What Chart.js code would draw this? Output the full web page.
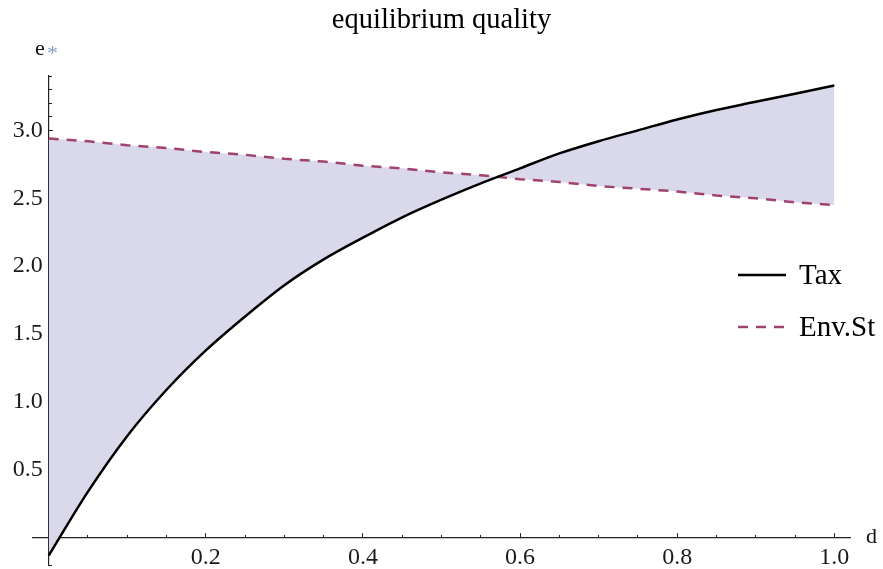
<!DOCTYPE html>
<html><head><meta charset="utf-8">
<script src="https://cdn.jsdelivr.net/npm/chart.js@4.4.0/dist/chart.umd.min.js"></script>
<style>html,body{margin:0;padding:0;background:#fff;}#wrap{width:883px;height:569px;}</style>
</head><body><div id="wrap"><canvas id="c" width="883" height="569"></canvas></div>
<script>
const titleText = 'equilibrium quality';
const seriesNames = ['Tax', 'Env.St'];
const dValues = [0, 0.05, 0.1, 0.15, 0.2, 0.25, 0.3, 0.35, 0.4, 0.45, 0.5, 0.55, 0.6, 0.65, 0.7, 0.75, 0.8, 0.85, 0.9, 0.95, 1.0];
const taxValues = [-0.13, 0.34, 0.75, 1.09, 1.38, 1.63, 1.86, 2.05, 2.21, 2.36, 2.49, 2.61, 2.72, 2.83, 2.92, 3.00, 3.08, 3.15, 3.21, 3.27, 3.33];
const envValues = [2.94, 2.92, 2.89, 2.87, 2.84, 2.82, 2.79, 2.77, 2.74, 2.72, 2.69, 2.67, 2.64, 2.62, 2.59, 2.57, 2.55, 2.52, 2.50, 2.47, 2.45];
const xTickLabels = ['0.2', '0.4', '0.6', '0.8', '1.0'];
const yTickLabels = ['0.5', '1.0', '1.5', '2.0', '2.5', '3.0'];
const xAxisLabel = 'd';
const yAxisLabel = 'e';
const yAxisMark = '*';

const SERIF = '"Liberation Serif", "Times New Roman", serif';
const fillColor = 'rgb(217,217,235)';
const taxColor = '#000000';
const envColor = '#a0426f';
const axisColor = '#222222';

const toPts = (ys) => dValues.map((d, i) => ({x: d, y: ys[i]}));
const noPad = (s) => { s.paddingTop = 0; s.paddingBottom = 0; s.paddingLeft = 0; s.paddingRight = 0; };

const overlay = {
  id: 'overlay',
  afterDraw(chart) {
    const ctx = chart.ctx;
    ctx.save();
    ctx.fillStyle = '#111';
    ctx.textAlign = 'left';
    ctx.textBaseline = 'alphabetic';
    ctx.font = '22px ' + SERIF;
    ctx.fillText(xAxisLabel, 866, 543);
    ctx.font = '22px ' + SERIF;
    ctx.fillText(yAxisLabel, 35, 55);
    ctx.fillStyle = '#8aa3c9';
    ctx.font = '22px ' + SERIF;
    ctx.fillText(yAxisMark, 47, 60);
    const ds = chart.data.datasets;
    const rows = [275, 327];
    ds.forEach((d, i) => {
      const y = rows[i];
      ctx.beginPath();
      ctx.strokeStyle = d.borderColor;
      ctx.lineWidth = d.borderWidth;
      ctx.setLineDash(d.borderDash || []);
      ctx.moveTo(738, y);
      ctx.lineTo(786, y);
      ctx.stroke();
      ctx.setLineDash([]);
      ctx.fillStyle = '#000';
      ctx.font = '29px ' + SERIF;
      ctx.textBaseline = 'middle';
      ctx.fillText(d.label, 799, y + 1);
    });
    ctx.restore();
  }
};

new Chart(document.getElementById('c'), {
  type: 'line',
  data: {
    datasets: [
      {
        label: seriesNames[0], data: toPts(taxValues),
        borderColor: taxColor, borderWidth: 2.5, pointRadius: 0,
        cubicInterpolationMode: 'monotone',
        fill: {target: 1, above: fillColor, below: fillColor},
        backgroundColor: fillColor
      },
      {
        label: seriesNames[1], data: toPts(envValues),
        borderColor: envColor, borderWidth: 2.5, borderDash: [10, 8], pointRadius: 0,
        fill: false
      }
    ]
  },
  options: {
    responsive: false, animation: false, devicePixelRatio: 1,
    layout: {padding: {left: 33, right: 33, top: 0, bottom: 4}},
    plugins: {
      legend: {display: false},
      tooltip: {enabled: false},
      filler: {drawTime: 'beforeDatasetsDraw'},
      title: {
        display: true, text: titleText, color: '#000',
        font: {family: SERIF, size: 28.5, weight: 'normal', lineHeight: 1.2},
        padding: {top: 3, bottom: 38.8}
      }
    },
    scales: {
      x: {
        type: 'linear', min: -0.02, max: 1.02, position: {y: 0},
        afterFit: noPad,
        afterBuildTicks: (s) => { s.ticks = xTickLabels.map(t => ({value: parseFloat(t)})); },
        border: {display: true, color: axisColor, width: 1.2},
        grid: {drawOnChartArea: false, drawTicks: true, tickLength: -5, color: axisColor, tickWidth: 1},
        ticks: {autoSkip: false, maxRotation: 0, padding: 10, color: '#1a1a1a',
          font: {family: SERIF, size: 24},
          callback: (v) => { const i = xTickLabels.findIndex(t => Math.abs(parseFloat(t) - v) < 1e-6); return i >= 0 ? xTickLabels[i] : ''; }}
      },
      xMinor: {
        type: 'linear', axis: 'x', min: -0.02, max: 1.02, position: {y: 0},
        afterFit: noPad,
        border: {display: false},
        grid: {drawOnChartArea: false, drawTicks: true, tickLength: -3, color: axisColor, tickWidth: 1},
        ticks: {stepSize: 0.05, includeBounds: false, autoSkip: false, maxTicksLimit: 100, callback: () => ''}
      },
      y: {
        type: 'linear', min: -0.2, max: 3.4, position: {x: 0},
        afterFit: noPad,
        afterBuildTicks: (s) => { s.ticks = yTickLabels.map(t => ({value: parseFloat(t)})); },
        border: {display: true, color: axisColor, width: 1.2},
        grid: {drawOnChartArea: false, drawTicks: true, tickLength: -5, color: axisColor, tickWidth: 1},
        ticks: {autoSkip: false, padding: 7, color: '#1a1a1a',
          font: {family: SERIF, size: 24},
          callback: (v) => { const i = yTickLabels.findIndex(t => Math.abs(parseFloat(t) - v) < 1e-6); return i >= 0 ? yTickLabels[i] + ' ' : ''; }}
      },
      yMinor: {
        type: 'linear', axis: 'y', min: -0.2, max: 3.4, position: {x: 0},
        afterFit: noPad,
        border: {display: false},
        grid: {drawOnChartArea: false, drawTicks: true, tickLength: -3, color: axisColor, tickWidth: 1},
        ticks: {stepSize: 0.1, includeBounds: false, autoSkip: false, maxTicksLimit: 100, callback: () => ''}
      }
    }
  },
  plugins: [overlay]
});
</script></body></html>
